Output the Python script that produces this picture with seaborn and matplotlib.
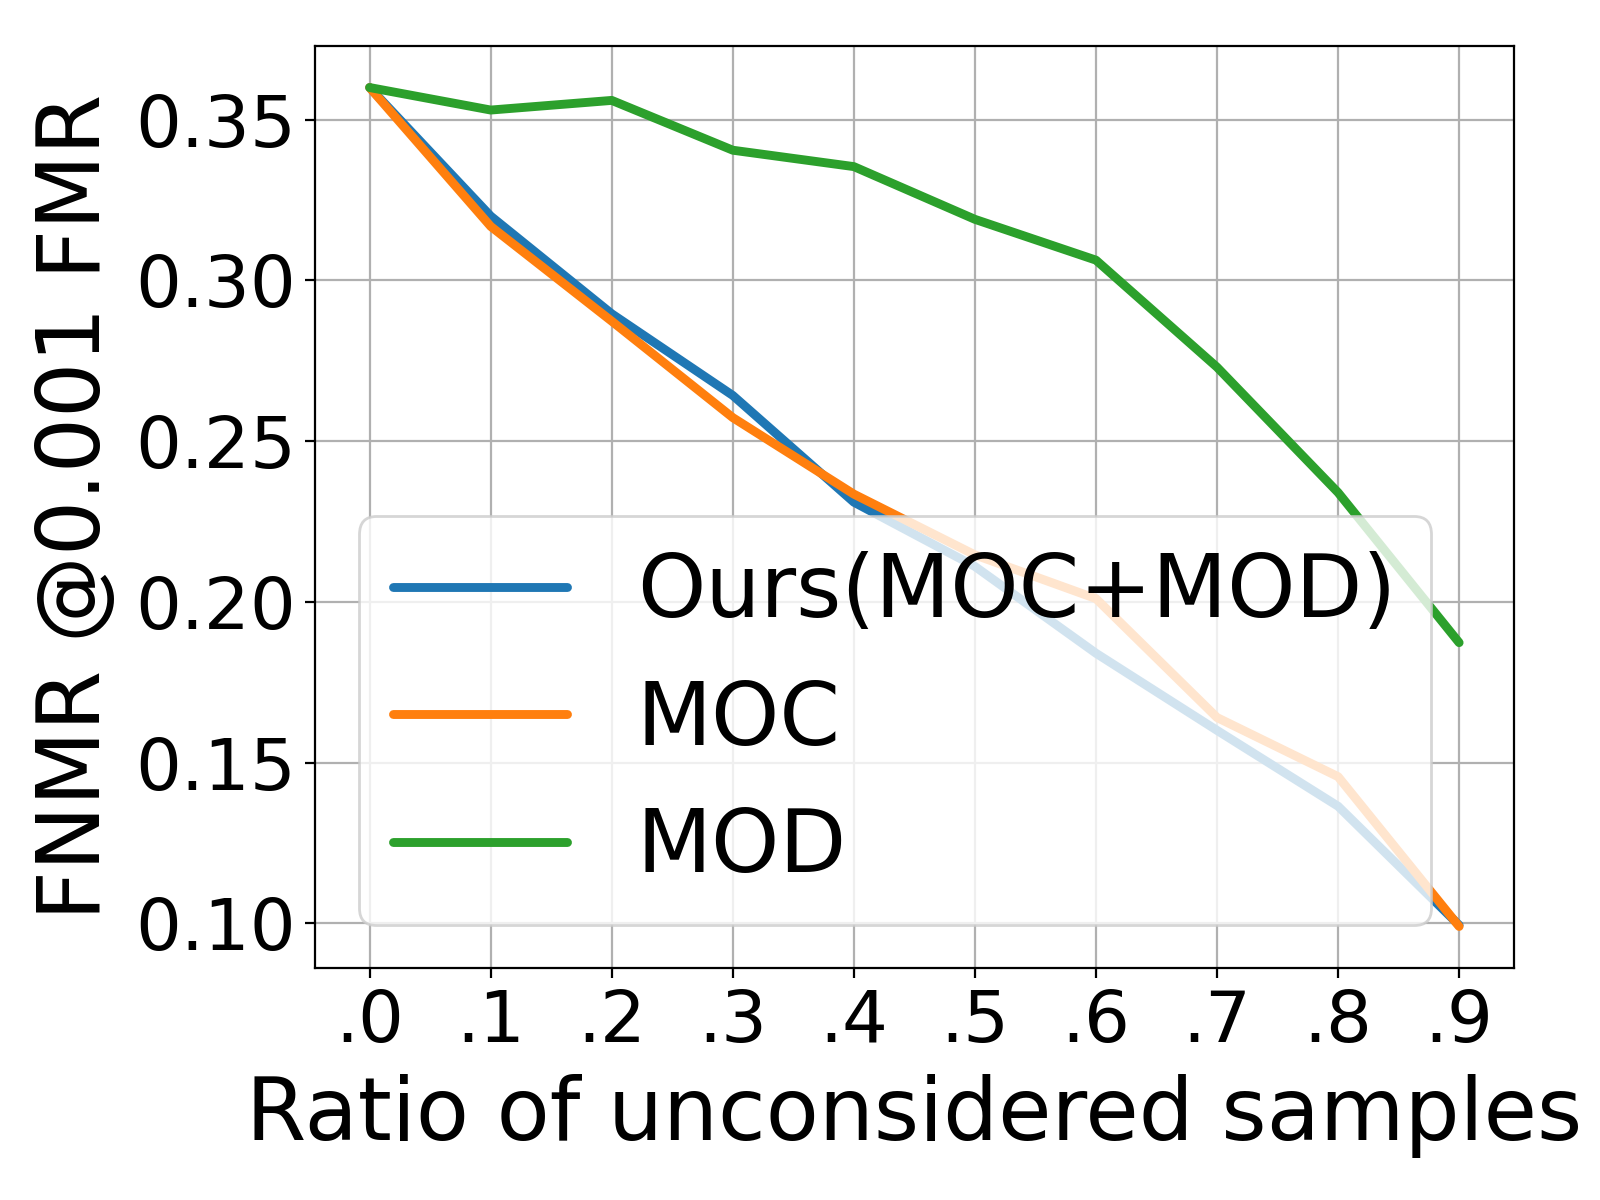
import numpy as np
import pandas as pd
import matplotlib
matplotlib.use("Agg")
import matplotlib.pyplot as plt
import seaborn as sns

ratios = [0.0, 0.1, 0.2, 0.3, 0.4, 0.5, 0.6, 0.7, 0.8, 0.9]
tick_labels = [".0", ".1", ".2", ".3", ".4", ".5", ".6", ".7", ".8", ".9"]
ours = [0.360, 0.320, 0.2896, 0.2642, 0.231, 0.211, 0.184, 0.160, 0.1364, 0.0994]
moc = [0.360, 0.3168, 0.2873, 0.2573, 0.2335, 0.2146, 0.201, 0.164, 0.1456, 0.099]
mod = [0.360, 0.353, 0.356, 0.3405, 0.3354, 0.319, 0.3063, 0.273, 0.234, 0.1873]
series_names = ["Ours(MOC+MOD)", "MOC", "MOD"]

df = pd.concat([
    pd.DataFrame({"ratio": ratios, "value": ours, "method": series_names[0]}),
    pd.DataFrame({"ratio": ratios, "value": moc, "method": series_names[1]}),
    pd.DataFrame({"ratio": ratios, "value": mod, "method": series_names[2]}),
])

sns.set_style("ticks")
plt.rcParams['font.family'] = ['DejaVu Sans']
plt.rcParams['text.color'] = 'black'
plt.rcParams['axes.labelcolor'] = 'black'
plt.rcParams['xtick.color'] = 'black'
plt.rcParams['ytick.color'] = 'black'

fig, ax = plt.subplots(figsize=(8, 6), dpi=200)
fig.subplots_adjust(left=0.197, right=0.946, top=0.962, bottom=0.193)

palette = ["#1f77b4", "#ff7f0e", "#2ca02c"]
sns.lineplot(data=df, x="ratio", y="value", hue="method", palette=palette,
             linewidth=3.2, ax=ax, legend=True)

ax.set_xticks(ratios)
ax.set_xticklabels(tick_labels)
ax.set_yticks([0.10, 0.15, 0.20, 0.25, 0.30, 0.35])
ax.set_yticklabels(["0.10", "0.15", "0.20", "0.25", "0.30", "0.35"])
ax.tick_params(labelsize=26, colors="black")
ax.grid(True, color="#b0b0b0", linewidth=0.8)
for s in ax.spines.values():
    s.set_linewidth(0.8)
    s.set_color("black")
ax.set_xlabel("Ratio of unconsidered samples", fontsize=31.3, color="black", labelpad=6)
ax.set_ylabel("FNMR @0.001 FMR", fontsize=31.3, color="black", labelpad=6)

handles, labels = ax.get_legend_handles_labels()
leg = ax.legend(handles, labels, loc="lower left", fontsize=31.3, framealpha=0.8)
for h in leg.get_lines():
    h.set_linewidth(3.2)
for t in leg.get_texts():
    t.set_color("black")

fig.savefig("out.png", dpi=200)
